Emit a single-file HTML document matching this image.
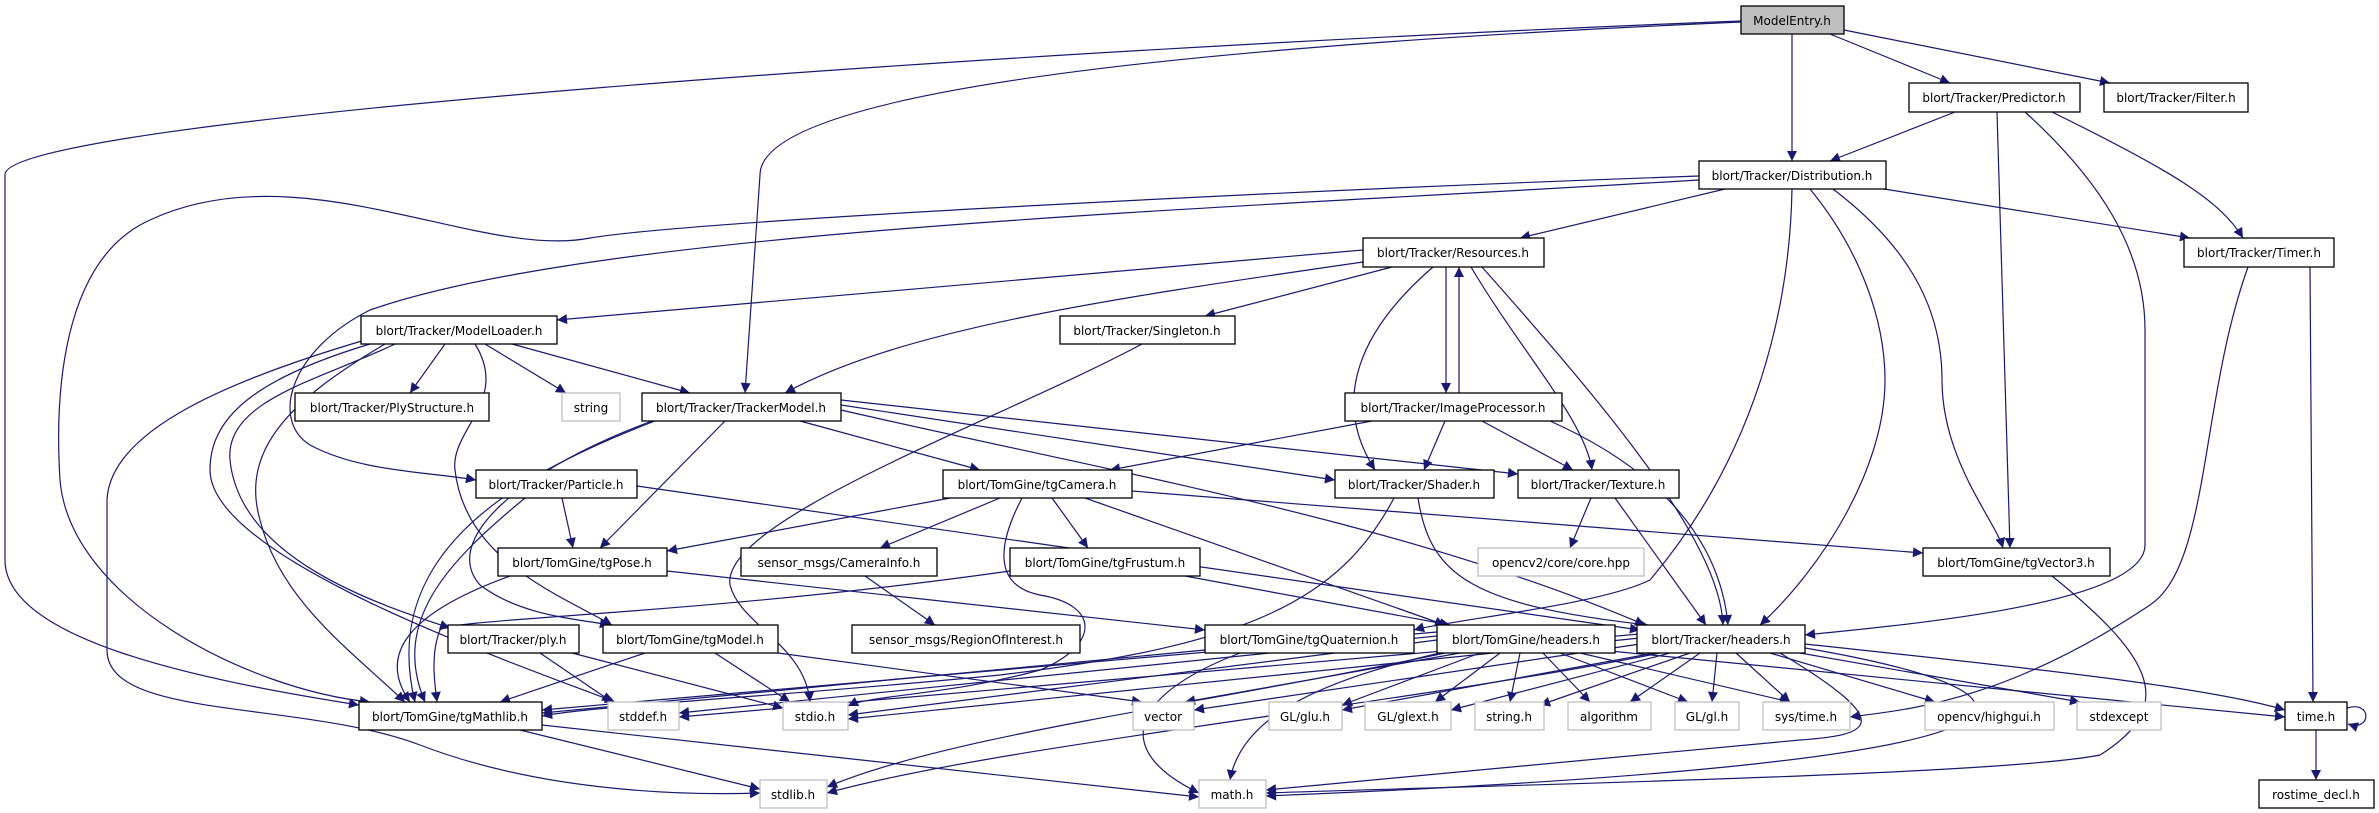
<!DOCTYPE html>
<html><head><meta charset="utf-8"><style>
html,body{margin:0;padding:0;background:#fff;}
svg{display:block;}
text{font-family:"DejaVu Sans","Liberation Sans",sans-serif;font-size:12px;text-anchor:middle;fill:#000;}
.n{fill:#fff;stroke:#000;stroke-width:1.3;}
.g{fill:#fff;stroke:#bfbfbf;stroke-width:1.3;}
.e{fill:none;stroke:#191970;stroke-width:1.2;marker-end:url(#a);}
</style></head><body>
<svg width="2379" height="813" viewBox="0 0 2379 813" xmlns="http://www.w3.org/2000/svg">
<defs><marker id="a" viewBox="0 0 10 10" refX="10" refY="5" markerWidth="11" markerHeight="10" markerUnits="userSpaceOnUse" orient="auto"><path d="M0,0 L10,5 L0,10 z" fill="#191970"/></marker></defs>
<g>
<path class="e" d="M1830 34 L1950 83"/>
<path class="e" d="M1844 30 L2110 83"/>
<path class="e" d="M1792 34 L1792 161"/>
<path class="e" d="M1741 22 C1100 50, 760 100, 760 175 L745 393"/>
<path class="e" d="M1741 21 C1000 50, 0 120, 5 175 L5 560 C5 640, 200 680, 359 705"/>
<path class="e" d="M1955 112 L1830 161"/>
<path class="e" d="M1997 112 L2010 548"/>
<path class="e" d="M2052 112 C2170 170, 2220 200, 2243 238"/>
<path class="e" d="M2025 112 C2100 180, 2145 250, 2145 330 L2145 545 C2145 605, 1900 625, 1805 635"/>
<path class="e" d="M1725 189 L1520 238"/>
<path class="e" d="M1884 189 L2190 238"/>
<path class="e" d="M1833 189 C1900 240, 1942 300, 1942 380 C1942 460, 1995 520, 2003 548"/>
<path class="e" d="M1810 189 C1860 250, 1885 320, 1885 380 C1885 470, 1820 570, 1760 625"/>
<path class="e" d="M1792 189 C1790 300, 1760 450, 1650 580 C1600 605, 1450 620, 1414 630"/>
<path class="e" d="M1699 176 C1300 190, 700 220, 590 238 C480 260, 300 150, 150 220 C60 260, 55 400, 60 480 C70 600, 250 690, 370 702"/>
<path class="e" d="M1699 180 C1200 210, 600 230, 370 310 C290 350, 270 420, 310 445 C360 472, 430 472, 476 480"/>
<path class="e" d="M1363 250 L557 320"/>
<path class="e" d="M1363 262 C1100 300, 900 330, 785 393"/>
<path class="e" d="M1392 267 L1205 316"/>
<path class="e" d="M1446 267 L1446 393"/>
<path class="e" d="M1459 393 L1459 267"/>
<path class="e" d="M1433 267 C1360 330, 1330 400, 1375 470"/>
<path class="e" d="M1471 267 C1520 350, 1585 420, 1592 470"/>
<path class="e" d="M1482 267 C1600 400, 1720 540, 1723 625"/>
<path class="e" d="M1142 344 C1000 420, 720 520, 730 585 C740 625, 805 645, 810 702"/>
<path class="e" d="M1372 421 L1110 470"/>
<path class="e" d="M1445 421 L1424 470"/>
<path class="e" d="M1482 421 L1573 470"/>
<path class="e" d="M1550 421 C1660 470, 1720 540, 1728 625"/>
<path class="e" d="M445 344 L410 393"/>
<path class="e" d="M485 344 L566 393"/>
<path class="e" d="M512 344 L690 393"/>
<path class="e" d="M475 344 C510 400, 450 430, 455 470 C465 560, 560 595, 612 625"/>
<path class="e" d="M395 344 C320 380, 225 400, 230 460 C240 560, 380 605, 450 628"/>
<path class="e" d="M370 344 C250 380, 210 420, 210 470 C210 560, 520 665, 615 702"/>
<path class="e" d="M365 340 C230 380, 110 430, 107 500 L107 650 C107 720, 300 700, 420 745 C550 795, 700 795, 760 793"/>
<path class="e" d="M385 344 C290 400, 240 450, 260 520 C280 600, 350 650, 405 702"/>
<path class="e" d="M725 421 L600 548"/>
<path class="e" d="M800 421 L980 470"/>
<path class="e" d="M841 405 L1335 480"/>
<path class="e" d="M841 400 L1518 474"/>
<path class="e" d="M841 410 C1100 470, 1400 520, 1645 625"/>
<path class="e" d="M655 421 C500 480, 380 560, 415 702"/>
<path class="e" d="M652 421 C520 470, 440 540, 480 585 C520 615, 570 618, 610 625"/>
<path class="e" d="M562 498 L573 548"/>
<path class="e" d="M525 498 C450 560, 390 620, 425 702"/>
<path class="e" d="M637 486 L1640 630"/>
<path class="e" d="M950 498 L667 551"/>
<path class="e" d="M1000 498 L880 548"/>
<path class="e" d="M1052 498 L1088 548"/>
<path class="e" d="M1085 498 L1445 625"/>
<path class="e" d="M1132 491 L1923 553"/>
<path class="e" d="M1022 498 C1000 540, 990 585, 1040 595 C1100 605, 1100 645, 1040 670 C950 695, 870 695, 848 706"/>
<path class="e" d="M865 576 L935 625"/>
<path class="e" d="M1010 571 C700 615, 450 618, 440 630 C430 655, 435 685, 437 702"/>
<path class="e" d="M1185 576 L1450 625"/>
<path class="e" d="M510 576 C430 605, 370 645, 410 702"/>
<path class="e" d="M667 571 L1205 630"/>
<path class="e" d="M540 653 L612 702"/>
<path class="e" d="M572 653 L783 708"/>
<path class="e" d="M645 653 L500 702"/>
<path class="e" d="M715 653 L790 702"/>
<path class="e" d="M778 653 L1142 702"/>
<path class="e" d="M1205 650 L542 713"/>
<path class="e" d="M1240 653 C1130 695, 1110 750, 1199 793"/>
<path class="e" d="M1418 498 C1430 575, 1470 605, 1648 625"/>
<path class="e" d="M1394 498 C1340 600, 1250 645, 1000 675 C800 695, 600 705, 542 716"/>
<path class="e" d="M1591 498 L1570 548"/>
<path class="e" d="M1615 498 L1706 625"/>
<path class="e" d="M2052 576 C2150 655, 2180 705, 2100 755 C2000 775, 1500 785, 1266 793"/>
<path class="e" d="M2310 267 L2313 702"/>
<path class="e" d="M2248 267 C2200 400, 2210 565, 2150 605 C2000 705, 1900 710, 1850 717"/>
<path class="e" d="M2316 730 L2316 780"/>
<path class="e" d="M2347 708 C2372 700, 2372 732, 2348 724"/>
<path class="e" d="M520 730 L760 789"/>
<path class="e" d="M542 725 L1199 797"/>
<path class="e" d="M1437 632 L542 710"/>
<path class="e" d="M1437 636 L679 713"/>
<path class="e" d="M1437 640 L848 715"/>
<path class="e" d="M1460 653 L1185 702"/>
<path class="e" d="M1480 653 L1342 705"/>
<path class="e" d="M1500 653 L1435 702"/>
<path class="e" d="M1520 653 L1510 702"/>
<path class="e" d="M1543 653 L1590 702"/>
<path class="e" d="M1560 653 L1688 702"/>
<path class="e" d="M1580 653 L1790 702"/>
<path class="e" d="M1600 650 L2285 717"/>
<path class="e" d="M1440 653 C1300 685, 1240 725, 1230 780"/>
<path class="e" d="M1445 653 C1200 705, 950 735, 827 787"/>
<path class="e" d="M1640 644 L1194 710"/>
<path class="e" d="M1640 638 L848 719"/>
<path class="e" d="M1640 634 L679 717"/>
<path class="e" d="M1655 653 L1342 710"/>
<path class="e" d="M1670 653 L1451 710"/>
<path class="e" d="M1690 653 L1540 705"/>
<path class="e" d="M1700 653 L1630 702"/>
<path class="e" d="M1717 653 L1712 702"/>
<path class="e" d="M1736 653 L1790 702"/>
<path class="e" d="M1770 653 L1935 702"/>
<path class="e" d="M1800 653 L2080 702"/>
<path class="e" d="M1805 644 C2000 665, 2200 685, 2285 710"/>
<path class="e" d="M1780 653 C1900 725, 1870 735, 1800 740 L1266 790"/>
<path class="e" d="M1660 653 C1400 705, 1000 745, 827 793"/>
<path class="e" d="M1805 648 C2050 690, 2150 760, 1266 796"/>
</g>
<g>
<rect x="1741" y="6" width="103" height="28" fill="#bfbfbf" stroke="#000" stroke-width="1.3"/><text x="1792" y="25">ModelEntry.h</text>
<rect class="n" x="1909" y="83" width="171" height="29"/><text x="1994" y="102">blort/Tracker/Predictor.h</text>
<rect class="n" x="2104" y="83" width="144" height="29"/><text x="2176" y="102">blort/Tracker/Filter.h</text>
<rect class="n" x="1699" y="161" width="187" height="28"/><text x="1792" y="180">blort/Tracker/Distribution.h</text>
<rect class="n" x="1363" y="238" width="181" height="29"/><text x="1453" y="257">blort/Tracker/Resources.h</text>
<rect class="n" x="2184" y="238" width="150" height="29"/><text x="2259" y="257">blort/Tracker/Timer.h</text>
<rect class="n" x="361" y="316" width="196" height="28"/><text x="459" y="335">blort/Tracker/ModelLoader.h</text>
<rect class="n" x="1060" y="316" width="175" height="28"/><text x="1147" y="335">blort/Tracker/Singleton.h</text>
<rect class="n" x="295" y="393" width="194" height="28"/><text x="392" y="412">blort/Tracker/PlyStructure.h</text>
<rect class="g" x="562" y="393" width="58" height="28"/><text x="591" y="412">string</text>
<rect class="n" x="642" y="393" width="199" height="28"/><text x="741" y="412">blort/Tracker/TrackerModel.h</text>
<rect class="n" x="1345" y="393" width="217" height="28"/><text x="1453" y="412">blort/Tracker/ImageProcessor.h</text>
<rect class="n" x="476" y="470" width="161" height="28"/><text x="556" y="489">blort/Tracker/Particle.h</text>
<rect class="n" x="943" y="470" width="189" height="28"/><text x="1037" y="489">blort/TomGine/tgCamera.h</text>
<rect class="n" x="1335" y="470" width="159" height="28"/><text x="1414" y="489">blort/Tracker/Shader.h</text>
<rect class="n" x="1518" y="470" width="161" height="28"/><text x="1598" y="489">blort/Tracker/Texture.h</text>
<rect class="n" x="498" y="548" width="169" height="28"/><text x="582" y="567">blort/TomGine/tgPose.h</text>
<rect class="n" x="741" y="548" width="196" height="28"/><text x="839" y="567">sensor_msgs/CameraInfo.h</text>
<rect class="n" x="1010" y="548" width="190" height="28"/><text x="1105" y="567">blort/TomGine/tgFrustum.h</text>
<rect class="g" x="1478" y="548" width="166" height="28"/><text x="1561" y="567">opencv2/core/core.hpp</text>
<rect class="n" x="1923" y="548" width="187" height="28"/><text x="2016" y="567">blort/TomGine/tgVector3.h</text>
<rect class="n" x="448" y="625" width="131" height="28"/><text x="513" y="644">blort/Tracker/ply.h</text>
<rect class="n" x="603" y="625" width="175" height="28"/><text x="690" y="644">blort/TomGine/tgModel.h</text>
<rect class="n" x="852" y="625" width="228" height="28"/><text x="966" y="644">sensor_msgs/RegionOfInterest.h</text>
<rect class="n" x="1205" y="625" width="209" height="28"/><text x="1309" y="644">blort/TomGine/tgQuaternion.h</text>
<rect class="n" x="1437" y="625" width="178" height="28"/><text x="1526" y="644">blort/TomGine/headers.h</text>
<rect class="n" x="1637" y="625" width="168" height="28"/><text x="1721" y="644">blort/Tracker/headers.h</text>
<rect class="n" x="359" y="702" width="183" height="28"/><text x="450" y="721">blort/TomGine/tgMathlib.h</text>
<rect class="g" x="608" y="702" width="71" height="28"/><text x="643" y="721">stddef.h</text>
<rect class="g" x="783" y="702" width="65" height="28"/><text x="815" y="721">stdio.h</text>
<rect class="g" x="1133" y="702" width="61" height="28"/><text x="1163" y="721">vector</text>
<rect class="g" x="1269" y="702" width="73" height="28"/><text x="1305" y="721">GL/glu.h</text>
<rect class="g" x="1365" y="702" width="86" height="28"/><text x="1408" y="721">GL/glext.h</text>
<rect class="g" x="1475" y="702" width="69" height="28"/><text x="1509" y="721">string.h</text>
<rect class="g" x="1568" y="702" width="83" height="28"/><text x="1609" y="721">algorithm</text>
<rect class="g" x="1675" y="702" width="64" height="28"/><text x="1707" y="721">GL/gl.h</text>
<rect class="g" x="1763" y="702" width="87" height="28"/><text x="1806" y="721">sys/time.h</text>
<rect class="g" x="1925" y="702" width="129" height="28"/><text x="1989" y="721">opencv/highgui.h</text>
<rect class="g" x="2077" y="702" width="84" height="28"/><text x="2119" y="721">stdexcept</text>
<rect class="n" x="2285" y="702" width="62" height="28"/><text x="2316" y="721">time.h</text>
<rect class="g" x="760" y="780" width="67" height="28"/><text x="793" y="799">stdlib.h</text>
<rect class="g" x="1199" y="780" width="67" height="28"/><text x="1232" y="799">math.h</text>
<rect class="n" x="2259" y="780" width="115" height="28"/><text x="2316" y="799">rostime_decl.h</text>
</g>
</svg>
</body></html>
